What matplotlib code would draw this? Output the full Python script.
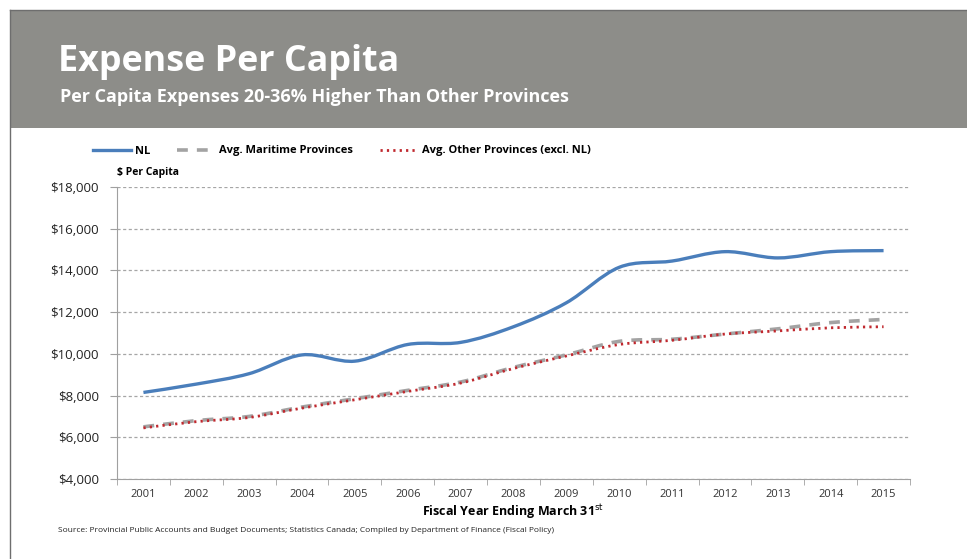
import matplotlib
matplotlib.use("Agg")
import matplotlib.pyplot as plt
from matplotlib.path import Path
from matplotlib.patches import PathPatch, Rectangle
from matplotlib.lines import Line2D
from matplotlib.ticker import FuncFormatter, MultipleLocator, FixedLocator

plt.rcParams["font.family"] = ["Open Sans", "DejaVu Sans"]

years = ["2001", "2002", "2003", "2004", "2005", "2006", "2007", "2008",
         "2009", "2010", "2011", "2012", "2013", "2014", "2015"]
nl = [8150, 8550, 9050, 9950, 9650, 10450, 10550, 11300,
      12450, 14150, 14450, 14900, 14600, 14900, 14950]
maritime = [6500, 6800, 7000, 7450, 7850, 8250, 8650, 9350,
            9950, 10600, 10700, 10950, 11200, 11500, 11650]
other = [6450, 6750, 6950, 7400, 7800, 8200, 8600, 9300,
         9900, 10450, 10650, 10950, 11100, 11250, 11300]

TITLE = "Expense Per Capita"
SUBTITLE = "Per Capita Expenses 20-36% Higher Than Other Provinces"
SOURCE = ("Source: Provincial Public Accounts and Budget Documents; Statistics Canada; "
          "Compiled by Department of Finance (Fiscal Policy)")


def smooth_path(xs, ys, tension=1 / 6):
    # Excel-style smoothed line: cubic bezier through each point
    verts = [(xs[0], ys[0])]
    codes = [Path.MOVETO]
    n = len(xs)
    for i in range(n - 1):
        x0, y0 = (xs[i - 1], ys[i - 1]) if i > 0 else (xs[i], ys[i])
        x1, y1 = xs[i], ys[i]
        x2, y2 = xs[i + 1], ys[i + 1]
        x3, y3 = (xs[i + 2], ys[i + 2]) if i + 2 < n else (x2, y2)
        c1 = (x1 + (x2 - x0) * tension, y1 + (y2 - y0) * tension)
        c2 = (x2 - (x3 - x1) * tension, y2 - (y3 - y1) * tension)
        verts += [c1, c2, (x2, y2)]
        codes += [Path.CURVE4] * 3
    return Path(verts, codes)


fig = plt.figure(figsize=(9.67, 5.59), dpi=100)
W, H = 967, 559

# header band
fig.patches.append(Rectangle((10 / W, 1 - 128 / H), 1, 118 / H, transform=fig.transFigure,
                             facecolor="#8d8d89", edgecolor="none", zorder=0))
fig.add_artist(Line2D([10 / W, 10 / W], [0, 1 - 10 / H], transform=fig.transFigure,
                      color="#6e6e6e", lw=1))
fig.add_artist(Line2D([10 / W, 1], [1 - 10 / H, 1 - 10 / H], transform=fig.transFigure,
                      color="#6e6e6e", lw=1))
fig.text(58 / W, 1 - 62 / H, TITLE, fontsize=25.8, fontweight="bold", color="white",
         va="center", ha="left")
fig.text(60 / W, 1 - 97 / H, SUBTITLE, fontsize=13, fontweight="bold", color="white",
         va="center", ha="left")

ax = fig.add_axes([117 / W, 1 - 479 / H, (910 - 117) / W, (479 - 187) / H])
x = list(range(len(years)))

styles = [
    (nl, dict(color="#4a7ebb", lw=2.4, linestyle="-")),
    (maritime, dict(color="#a3a3a3", lw=2.6, linestyle=(0, (3, 2.5)))),
    (other, dict(color="#c0282e", lw=2.0, linestyle=(0, (0.8, 1.5)))),
]
for ys, st in styles:
    patch = PathPatch(smooth_path(x, ys), facecolor="none", edgecolor=st["color"],
                      lw=st["lw"], linestyle=st["linestyle"], capstyle="butt", zorder=3)
    ax.add_patch(patch)

ax.set_xlim(-0.5, len(years) - 0.5)
ax.set_ylim(4000, 18000)
ax.yaxis.set_major_locator(MultipleLocator(2000))
ax.yaxis.set_major_formatter(FuncFormatter(lambda v, p: f"${v:,.0f}"))
ax.set_xticks(x)
ax.set_xticklabels(years)
ax.xaxis.set_minor_locator(FixedLocator([i - 0.5 for i in range(len(years) + 1)]))
ax.tick_params(axis="x", which="major", length=0, pad=7, labelsize=8, labelcolor="#333333")
ax.tick_params(axis="x", which="minor", length=4, color="#a0a0a0")
ax.tick_params(axis="y", length=5, color="#a0a0a0", labelsize=9.5, labelcolor="#222222", pad=8)
ax.grid(axis="y", color="#a6a6a6", linestyle=(0, (2.5, 2)), lw=0.9)
ax.set_axisbelow(True)
for side in ["top", "right"]:
    ax.spines[side].set_visible(False)
for side in ["left", "bottom"]:
    ax.spines[side].set_color("#a0a0a0")
ax.set_xlabel("Fiscal Year Ending March 31$^{\\mathrm{st}}$", fontsize=9, fontweight="bold",
              labelpad=2)

fig.text(117 / W, 1 - 172 / H, "$ Per Capita", fontsize=7.5, fontweight="bold",
         va="center", ha="left")
fig.text(58 / W, 1 - 531 / H, SOURCE, fontsize=6, va="center", ha="left", color="#222222")

handles = [Line2D([], [], color=st["color"], lw=st["lw"], linestyle=st["linestyle"])
           for _, st in styles]
fig.legend(handles, ["NL", "Avg. Maritime Provinces", "Avg. Other Provinces (excl. NL)"],
           loc="center left", bbox_to_anchor=(83 / W, 1 - 151 / H), ncol=3, frameon=False,
           prop={"size": 8, "weight": "bold"}, handlelength=3.4, columnspacing=2.4,
           handletextpad=0.4)

fig.savefig("out.png", dpi=100, facecolor="white")
